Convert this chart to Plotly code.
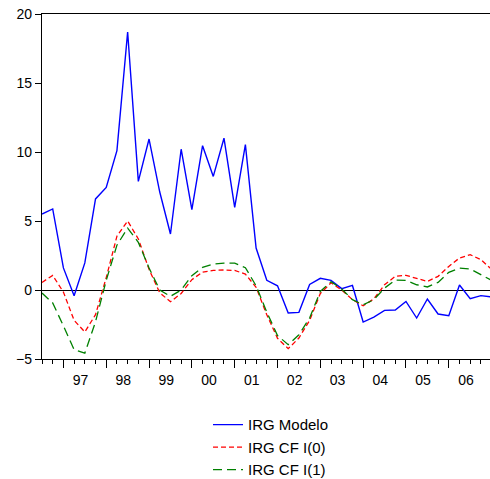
import plotly.graph_objects as go

# Quarterly observations starting 1996Q3 (index 0)
quarters = [f"{1996 + (q + 2) // 4}Q{(q + 2) % 4 + 1}" for q in range(43)]

irg_modelo = [5.5, 5.87, 1.6, -0.41, 1.96, 6.6, 7.43, 10.1, 18.7, 7.87,
              10.94, 7.1, 4.06, 10.2, 5.82, 10.46, 8.23, 11.0, 5.99, 10.53,
              3.04, 0.7, 0.3, -1.67, -1.62, 0.4, 0.85, 0.7, 0.1, 0.33,
              -2.32, -1.96, -1.48, -1.45, -0.83, -2.03, -0.65, -1.74, -1.86, 0.36,
              -0.63, -0.41, -0.5]

irg_cf_i0 = [0.55, 1.06, -0.15, -2.2, -3.04, -1.79, 0.9, 3.9, 5.0, 3.7,
             1.5, -0.2, -0.85, -0.25, 0.75, 1.3, 1.42, 1.45, 1.42, 1.15,
             0.2, -1.8, -3.5, -4.25, -3.48, -2.2, -0.25, 0.52, 0.0, -0.7,
             -1.14, -0.65, 0.38, 0.99, 1.06, 0.82, 0.62, 0.99, 1.71, 2.32,
             2.56, 2.2, 1.5]

irg_cf_i1 = [-0.22, -0.94, -2.6, -4.33, -4.57, -2.3, 0.7, 3.25, 4.49, 3.45,
             1.6, 0.0, -0.46, 0.0, 1.04, 1.64, 1.88, 1.95, 1.95, 1.62,
             0.3, -1.6, -3.3, -3.96, -3.24, -2.03, -0.1, 0.6, 0.07, -0.7,
             -1.07, -0.7, 0.14, 0.72, 0.7, 0.38, 0.22, 0.55, 1.28, 1.59,
             1.52, 1.11, 0.7]

year_labels = ["97", "98", "99", "00", "01", "02", "03", "04", "05", "06"]
y_ticks = [-5, 0, 5, 10, 15, 20]

x = list(range(len(quarters)))
year_starts = [quarters.index(("19" if y.startswith("9") else "20") + y + "Q1")
               for y in year_labels]
year_centers = [s + 1.6 for s in year_starts]

FONT = "Arial, Liberation Sans, sans-serif"

fig = go.Figure()
fig.add_trace(go.Scatter(x=x, y=irg_modelo, mode="lines", name="IRG Modelo",
                         line=dict(color="#0000FF", width=1.4), text=quarters))
fig.add_trace(go.Scatter(x=x, y=irg_cf_i0, mode="lines", name="IRG CF I(0)",
                         line=dict(color="#FF0000", width=1.3, dash="5px,3px"), text=quarters))
fig.add_trace(go.Scatter(x=x, y=irg_cf_i1, mode="lines", name="IRG CF I(1)",
                         line=dict(color="#008000", width=1.3, dash="9px,5px"), text=quarters))

xr = [0, 41.85]
fig.update_layout(
    width=490, height=479,
    margin=dict(l=42, r=0, t=14, b=120, autoexpand=False),
    paper_bgcolor="white", plot_bgcolor="white",
    font=dict(family=FONT, size=14, color="black"),
    showlegend=True,
    legend=dict(x=(208 - 42) / 448, xanchor="left", y=-0.143, yanchor="top",
                orientation="v", font=dict(size=15, family=FONT),
                bgcolor="rgba(0,0,0,0)", tracegroupgap=0),
    xaxis=dict(range=xr, showgrid=False, zeroline=False,
               showline=True, linecolor="black", linewidth=1, mirror=True,
               tickmode="array", tickvals=year_starts, ticks="outside", ticklen=8,
               tickcolor="black", showticklabels=False,
               minor=dict(dtick=1, tick0=0, ticks="outside", ticklen=4, tickcolor="black",
                          showgrid=False)),
    xaxis2=dict(range=xr, overlaying="x", anchor="y", side="bottom",
                showgrid=False, zeroline=False, showline=False,
                tickmode="array", tickvals=year_centers, ticktext=year_labels,
                ticks="", ticklabelstandoff=11, tickfont=dict(size=14, family=FONT)),
    yaxis=dict(range=[-5, 20], tickvals=y_ticks, showgrid=False,
               zeroline=True, zerolinecolor="black", zerolinewidth=1.3,
               showline=True, linecolor="black", linewidth=1.3,
               ticks="outside", ticklen=6, tickcolor="black",
               tickfont=dict(size=14, family=FONT)),
)
# invisible trace so the label axis is drawn
fig.add_trace(go.Scatter(x=[0], y=[None], xaxis="x2", showlegend=False, hoverinfo="skip"))

fig.write_html("out.html")
